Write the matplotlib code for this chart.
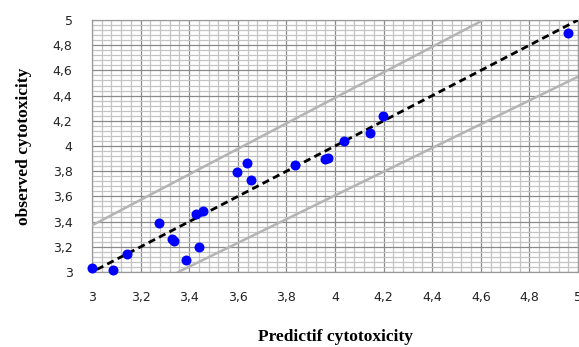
import matplotlib
matplotlib.use('Agg')
import matplotlib.pyplot as plt
from matplotlib.ticker import MultipleLocator, FuncFormatter

# ---- data ----
predicted = [3.00, 3.085, 3.145, 3.276, 3.337, 3.33, 3.387, 3.44, 3.427, 3.458,
             3.595, 3.636, 3.654, 3.837, 3.959, 3.972, 4.037, 4.144, 4.199, 4.96]
observed = [3.03, 3.016, 3.14, 3.386, 3.25, 3.26, 3.095, 3.196, 3.458, 3.487,
            3.796, 3.863, 3.73, 3.847, 3.897, 3.902, 4.04, 4.105, 4.24, 4.894]

ideal_x = [3.02, 5.0]
ideal_y = [3.02, 5.0]
upper_x = [3.0, 4.61]
upper_y = [3.37, 5.0]
lower_x = [3.355, 5.0]
lower_y = [3.0, 4.55]

ticks = [3.0, 3.2, 3.4, 3.6, 3.8, 4.0, 4.2, 4.4, 4.6, 4.8, 5.0]


def comma_fmt(v, pos):
    s = f"{v:.1f}".rstrip('0').rstrip('.')
    return s.replace('.', ',')


fig = plt.figure(figsize=(5.79, 3.47), dpi=100, facecolor='white')
ax = fig.add_axes([0.1589, 0.2161, 0.8394, 0.7262])

ax.set_xlim(3, 5)
ax.set_ylim(3, 5)
ax.set_xticks(ticks)
ax.set_yticks(ticks)
ax.xaxis.set_minor_locator(MultipleLocator(0.04))
ax.yaxis.set_minor_locator(MultipleLocator(0.04))
ax.xaxis.set_major_formatter(FuncFormatter(comma_fmt))
ax.yaxis.set_major_formatter(FuncFormatter(comma_fmt))

ax.grid(which='minor', color='#c4c4c4', linewidth=0.9)
ax.grid(which='major', color='#8a8a8a', linewidth=0.9)
ax.set_axisbelow(True)
for sp in ax.spines.values():
    sp.set_color('#9a9a9a')
    sp.set_linewidth(0.9)

# Excel-style: no tick marks, labels pushed away from the frame
ax.tick_params(which='both', length=0)
ax.tick_params(axis='x', pad=14, labelsize=9, labelcolor='#222222')
ax.tick_params(axis='y', pad=14, labelsize=9, labelcolor='#222222')

ax.plot(upper_x, upper_y, color='#b4b4b4', linewidth=1.8, zorder=3)
ax.plot(lower_x, lower_y, color='#b4b4b4', linewidth=1.8, zorder=3)
ax.plot(ideal_x, ideal_y, color='black', linewidth=2.0,
        linestyle=(0, (2.6, 1.6)), zorder=4)
ax.plot(predicted, observed, 'o', color='#0000ff', markersize=7.2,
        markeredgewidth=0, zorder=5, clip_on=False)

ax.set_xlabel('Predictif cytotoxicity', family='Liberation Serif',
              fontweight='bold', fontsize=12.5, labelpad=18)
ax.set_ylabel('observed cytotoxicity', family='Liberation Serif',
              fontweight='bold', fontsize=12.5, labelpad=15)

plt.savefig('out.png', dpi=100)
plt.close()
